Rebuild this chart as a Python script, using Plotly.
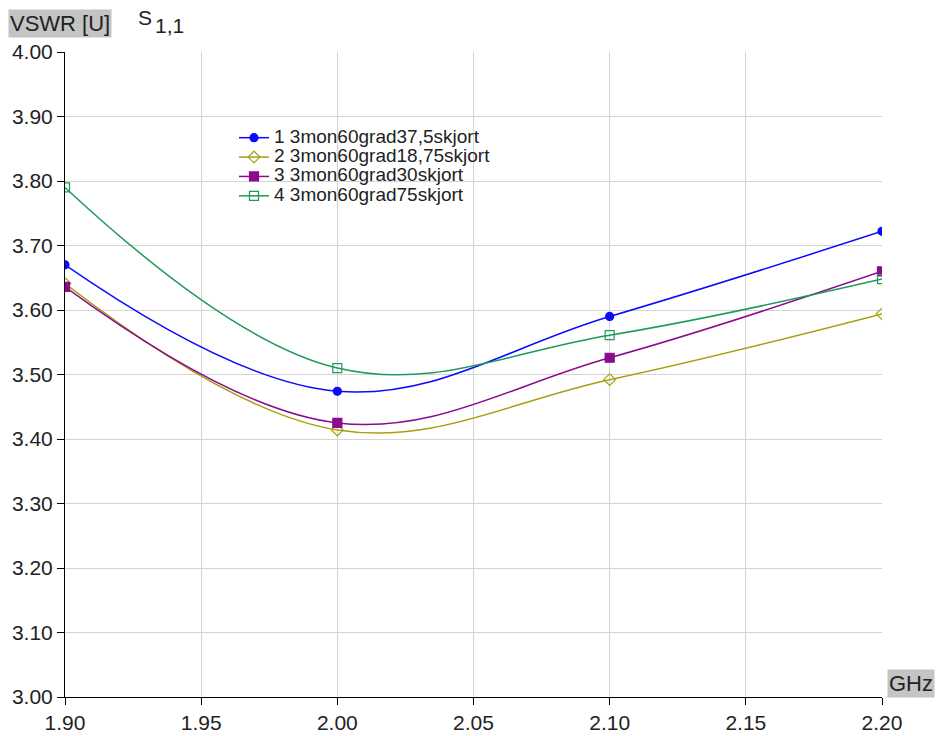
import plotly.graph_objects as go

# Frequency sweep points (GHz)
freq = [1.90, 2.00, 2.10, 2.20]

# VSWR of S1,1 for each antenna variant
names = [
    "1 3mon60grad37,5skjort",
    "2 3mon60grad18,75skjort",
    "3 3mon60grad30skjort",
    "4 3mon60grad75skjort",
]
vswr_1 = [3.670, 3.474, 3.590, 3.722]
vswr_2 = [3.641, 3.414, 3.492, 3.594]
vswr_3 = [3.636, 3.425, 3.526, 3.660]
vswr_4 = [3.790, 3.510, 3.561, 3.648]

# y-axis and x-axis tick labels
y_ticks = [3.00, 3.10, 3.20, 3.30, 3.40, 3.50, 3.60, 3.70, 3.80, 3.90, 4.00]
x_ticks = [1.90, 1.95, 2.00, 2.05, 2.10, 2.15, 2.20]

series = [vswr_1, vswr_2, vswr_3, vswr_4]
colors = ["#0a0aff", "#a8a010", "#8c0a8c", "#1e9a5a"]
symbols = ["circle", "diamond-open", "square", "square-open"]
msizes = [8, 9, 9, 9]

FONT = "Liberation Sans, Arial, sans-serif"
TXT = "#222222"
W, H = 941, 736
ML, MR, MT, MB = 65, 59, 52, 39
PW, PH = W - ML - MR, H - MT - MB


def px_x(p):
    return (p - ML) / PW


def px_y(p):
    return (H - MB - p) / PH


fig = go.Figure()
for name, ys, col, sym, ms in zip(names, series, colors, symbols, msizes):
    fig.add_trace(go.Scatter(
        x=freq, y=ys, name=f'<span style="font-size:19px">{name}</span>',
        mode="lines+markers",
        line=dict(color=col, width=1.5, shape="spline", smoothing=1.1),
        marker=dict(symbol=sym, size=ms, color=col, line=dict(color=col, width=1.2)),
    ))

axis_common = dict(
    showgrid=True, gridcolor="#d4d4d4", gridwidth=1,
    showline=True, linecolor="black", linewidth=1,
    ticks="outside", ticklen=7, tickcolor="black",
    tickfont=dict(size=21, color=TXT), zeroline=False,
    automargin=False,
)

fig.update_layout(
    width=W, height=H,
    margin=dict(l=ML, r=MR, t=MT, b=MB, autoexpand=False),
    paper_bgcolor="white", plot_bgcolor="white",
    font=dict(family=FONT, size=18, color=TXT),
    showlegend=True,
    legend=dict(
        x=px_x(234), y=px_y(123), xanchor="left", yanchor="top",
        bgcolor="rgba(0,0,0,0)", borderwidth=0,
        font=dict(family=FONT, size=12.6, color=TXT),
        itemwidth=30,
    ),
    xaxis=dict(
        range=[1.90, 2.20], tickvals=x_ticks,
        ticktext=[f"{v:.2f}" for v in x_ticks], **axis_common,
    ),
    yaxis=dict(
        range=[3.0, 4.0], tickvals=y_ticks,
        ticktext=[f"{v:.2f}" for v in y_ticks], **axis_common,
    ),
    annotations=[
        dict(text="VSWR [U]", xref="paper", yref="paper",
             x=px_x(8), y=px_y(9), xanchor="left", yanchor="top",
             showarrow=False, bgcolor="#c4c4c4", borderpad=1,
             font=dict(size=22, color=TXT)),
        dict(text="S", xref="paper", yref="paper",
             x=px_x(136), y=px_y(4), xanchor="left", yanchor="top",
             showarrow=False, font=dict(size=21, color=TXT)),
        dict(text="1,1", xref="paper", yref="paper",
             x=px_x(153), y=px_y(12), xanchor="left", yanchor="top",
             showarrow=False, font=dict(size=21, color=TXT)),
        dict(text="GHz", xref="paper", yref="paper",
             x=px_x(887), y=px_y(669), xanchor="left", yanchor="top",
             showarrow=False, bgcolor="#c4c4c4", borderpad=1,
             font=dict(size=22, color=TXT)),
    ],
)

fig.write_html("out.html")
